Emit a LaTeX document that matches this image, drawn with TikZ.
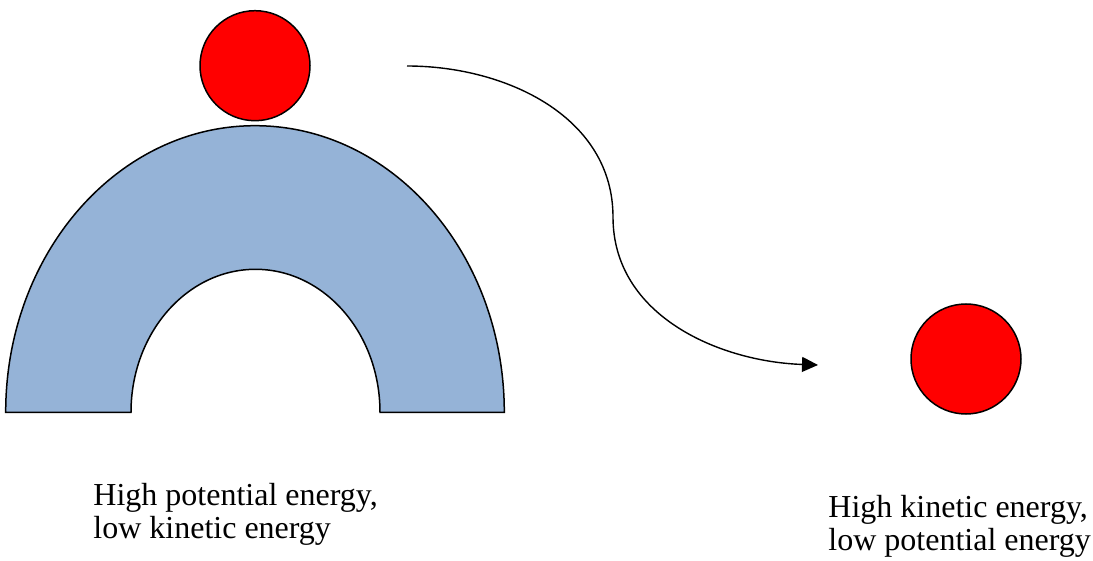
\documentclass[tikz,border=0pt]{standalone}
\usepackage{fontspec}
\setmainfont{Liberation Serif}
\usetikzlibrary{positioning, arrows.meta}
\definecolor{eRed}{HTML}{FF0000}
\definecolor{eArch}{HTML}{95B3D7}

\begin{document}
\begin{tikzpicture}[
  x=0.5pt, y=0.5pt,
  every node/.style={font=\fontsize{16}{16.5}\selectfont},
  ball/.style={circle, draw=black, line width=0.75pt, fill=eRed,
               minimum size=55pt, inner sep=0pt},
  arch/.style={draw=black, line width=0.75pt, fill=eArch},
  caption/.style={align=left, inner sep=0pt, anchor=base west},
  >={Triangle[length=8pt, width=7.5pt]},
]
  \useasboundingbox (0,0) rectangle (1093,-561);

  % Hill
  \draw[arch] (5.7,-412.3)
    arc[start angle=180, end angle=0, x radius=124.65pt, y radius=143.3pt]
    -- (380,-412.3)
    arc[start angle=0, end angle=180, x radius=62.25pt, y radius=71.5pt]
    -- cycle;

  % Balls
  \node[ball] (top) at (255,-65.7) {};
  \node[ball] (bottom) at (966,-359) {};

  % Fall path
  \coordinate (from) at (407,-66);
  \coordinate (bend) at (613,-217);
  \coordinate (to) at (818,-365);
  \draw[->, line width=0.7pt] (from) to[out=0, in=90] (bend)
    to[out=-90, in=178] (to);

  % Captions
  \node[caption] (potential) at (93,-538)
    {High potential energy,\\low kinetic energy};
  \node[caption] (kinetic) at (828,-550)
    {High kinetic energy,\\low potential energy};
\end{tikzpicture}
\end{document}
